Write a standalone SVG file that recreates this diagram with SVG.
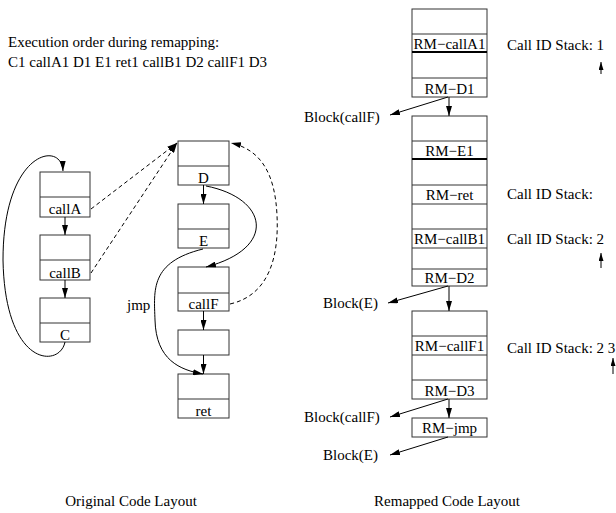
<svg xmlns="http://www.w3.org/2000/svg" width="616" height="513" viewBox="0 0 616 513">
<defs>
<marker id="ah" viewBox="0 0 10 6" refX="10" refY="3" markerWidth="10" markerHeight="6" markerUnits="userSpaceOnUse" orient="auto">
<path d="M0,0 L10,3 L0,6 z" fill="#000"/>
</marker>
<marker id="sh" viewBox="0 0 8 5" refX="8" refY="2.5" markerWidth="8" markerHeight="5" markerUnits="userSpaceOnUse" orient="auto">
<path d="M0,0 L8,2.5 L0,5 z" fill="#000"/>
</marker>
</defs>
<style>
text{font-family:"Liberation Serif","Times New Roman",serif;font-size:15px;fill:#000}
.bl{text-anchor:middle}
.box{fill:#fff;stroke:#333;stroke-width:1}
.div{stroke:#333;stroke-width:1}
.thk{stroke:#000;stroke-width:2}
.c{fill:none;stroke:#000;stroke-width:1}
.d{fill:none;stroke:#000;stroke-width:1;stroke-dasharray:4,3}
</style>
<rect width="616" height="513" fill="#fff"/>
<text x="8" y="47">Execution order during remapping:</text>
<text x="8" y="67">C1 callA1 D1 E1 ret1 callB1 D2 callF1 D3</text>

<g id="callA"><rect class="box" x="40" y="172" width="50" height="45"/><line class="div" x1="40" y1="197" x2="90" y2="197"/><text class="bl" x="65" y="214">callA</text></g>
<g id="callB"><rect class="box" x="40" y="235" width="50" height="45"/><line class="div" x1="40" y1="260" x2="90" y2="260"/><text class="bl" x="65" y="278">callB</text></g>
<g id="C"><rect class="box" x="40" y="298" width="50" height="44"/><line class="div" x1="40" y1="323" x2="90" y2="323"/><text class="bl" x="65" y="340">C</text></g>
<g id="D"><rect class="box" x="178" y="141" width="51" height="44"/><line class="div" x1="178" y1="166" x2="229" y2="166"/><text class="bl" x="203.5" y="183">D</text></g>
<g id="E"><rect class="box" x="178" y="204" width="51" height="44"/><line class="div" x1="178" y1="229" x2="229" y2="229"/><text class="bl" x="203.5" y="246">E</text></g>
<g id="callF"><rect class="box" x="178" y="267" width="51" height="44"/><line class="div" x1="178" y1="293" x2="229" y2="293"/><text class="bl" x="203.5" y="309">callF</text></g>
<g id="blank"><rect class="box" x="178" y="330" width="51" height="25"/></g>
<g id="ret"><rect class="box" x="178" y="374" width="51" height="44"/><line class="div" x1="178" y1="399" x2="229" y2="399"/><text class="bl" x="203.5" y="416">ret</text></g>

<g id="rm1"><rect class="box" x="412" y="9" width="75" height="88"/><line class="div" x1="412" y1="34" x2="487" y2="34"/><line class="thk" x1="412" y1="52" x2="487" y2="52"/><line class="div" x1="412" y1="78" x2="487" y2="78"/><text class="bl" x="449.5" y="49">RM−callA1</text><text class="bl" x="449.5" y="94">RM−D1</text></g>
<g id="rm2"><rect class="box" x="412" y="116" width="75" height="170"/><line class="div" x1="412" y1="141" x2="487" y2="141"/><line class="thk" x1="412" y1="159" x2="487" y2="159"/><line class="div" x1="412" y1="185" x2="487" y2="185"/><line class="div" x1="412" y1="204" x2="487" y2="204"/><line class="div" x1="412" y1="229" x2="487" y2="229"/><line class="div" x1="412" y1="248" x2="487" y2="248"/><line class="div" x1="412" y1="269" x2="487" y2="269"/><text class="bl" x="449.5" y="156">RM−E1</text><text class="bl" x="449.5" y="200">RM−ret</text><text class="bl" x="449.5" y="244">RM−callB1</text><text class="bl" x="449.5" y="283">RM−D2</text></g>
<g id="rm3"><rect class="box" x="412" y="311" width="75" height="88"/><line class="div" x1="412" y1="336" x2="487" y2="336"/><line class="div" x1="412" y1="355" x2="487" y2="355"/><line class="div" x1="412" y1="380" x2="487" y2="380"/><text class="bl" x="449.5" y="351">RM−callF1</text><text class="bl" x="449.5" y="396">RM−D3</text></g>
<g id="rm4"><rect class="box" x="412" y="418" width="75" height="19"/><text class="bl" x="449.5" y="433">RM−jmp</text></g>

<text x="304" y="122">Block(callF)</text>
<text x="323" y="308">Block(E)</text>
<text x="304" y="422">Block(callF)</text>
<text x="323" y="460">Block(E)</text>
<text x="507" y="50">Call ID Stack: 1</text>
<text x="507" y="199">Call ID Stack:</text>
<text x="507" y="244">Call ID Stack: 2</text>
<text x="507" y="353">Call ID Stack: 2 3</text>
<text x="127" y="310">jmp</text>
<text class="bl" x="131" y="506">Original Code Layout</text>
<text class="bl" x="447" y="506">Remapped Code Layout</text>

<g id="connectors">
<line class="c" x1="65" y1="217" x2="65" y2="235" marker-end="url(#ah)"/>
<line class="c" x1="65" y1="280" x2="65" y2="298" marker-end="url(#ah)"/>
<path class="c" d="M65,342 C60,368 5,368 3,260 C3,150 62,140 63,171" marker-end="url(#ah)"/>
<line class="c" x1="203.5" y1="185" x2="203.5" y2="204" marker-end="url(#ah)"/>
<line class="c" x1="203.5" y1="311" x2="203.5" y2="330" marker-end="url(#ah)"/>
<line class="c" x1="203.5" y1="355" x2="203.5" y2="374" marker-end="url(#ah)"/>
<path class="c" d="M206,186 C268,198 278,248 206,267" marker-end="url(#ah)"/>
<path class="c" d="M203,249 C150,262 154,290 155,320 C156,360 180,370 203,374" marker-end="url(#ah)"/>
<line class="d" x1="91" y1="209" x2="177" y2="143" marker-end="url(#ah)"/>
<line class="d" x1="91" y1="273" x2="177" y2="143" marker-end="url(#ah)"/>
<path class="d" d="M230,304 C270,295 279,255 277,215 C275,175 262,150 231,143" marker-end="url(#ah)"/>
<line class="c" x1="449" y1="97" x2="449" y2="116" marker-end="url(#ah)"/>
<line class="c" x1="448" y1="97" x2="390" y2="115" marker-end="url(#ah)"/>
<line class="c" x1="449" y1="286" x2="449" y2="311" marker-end="url(#ah)"/>
<line class="c" x1="448" y1="286" x2="388" y2="303" marker-end="url(#ah)"/>
<line class="c" x1="449" y1="399" x2="449" y2="418" marker-end="url(#ah)"/>
<line class="c" x1="448" y1="399" x2="390" y2="417" marker-end="url(#ah)"/>
<line class="c" x1="448" y1="437" x2="390" y2="455" marker-end="url(#ah)"/>
<line class="c" x1="601" y1="74" x2="601" y2="62" marker-end="url(#sh)"/>
<line class="c" x1="601" y1="268" x2="601" y2="253" marker-end="url(#sh)"/>
<line class="c" x1="613" y1="374" x2="613" y2="358" marker-end="url(#sh)"/>
</g>
</svg>
